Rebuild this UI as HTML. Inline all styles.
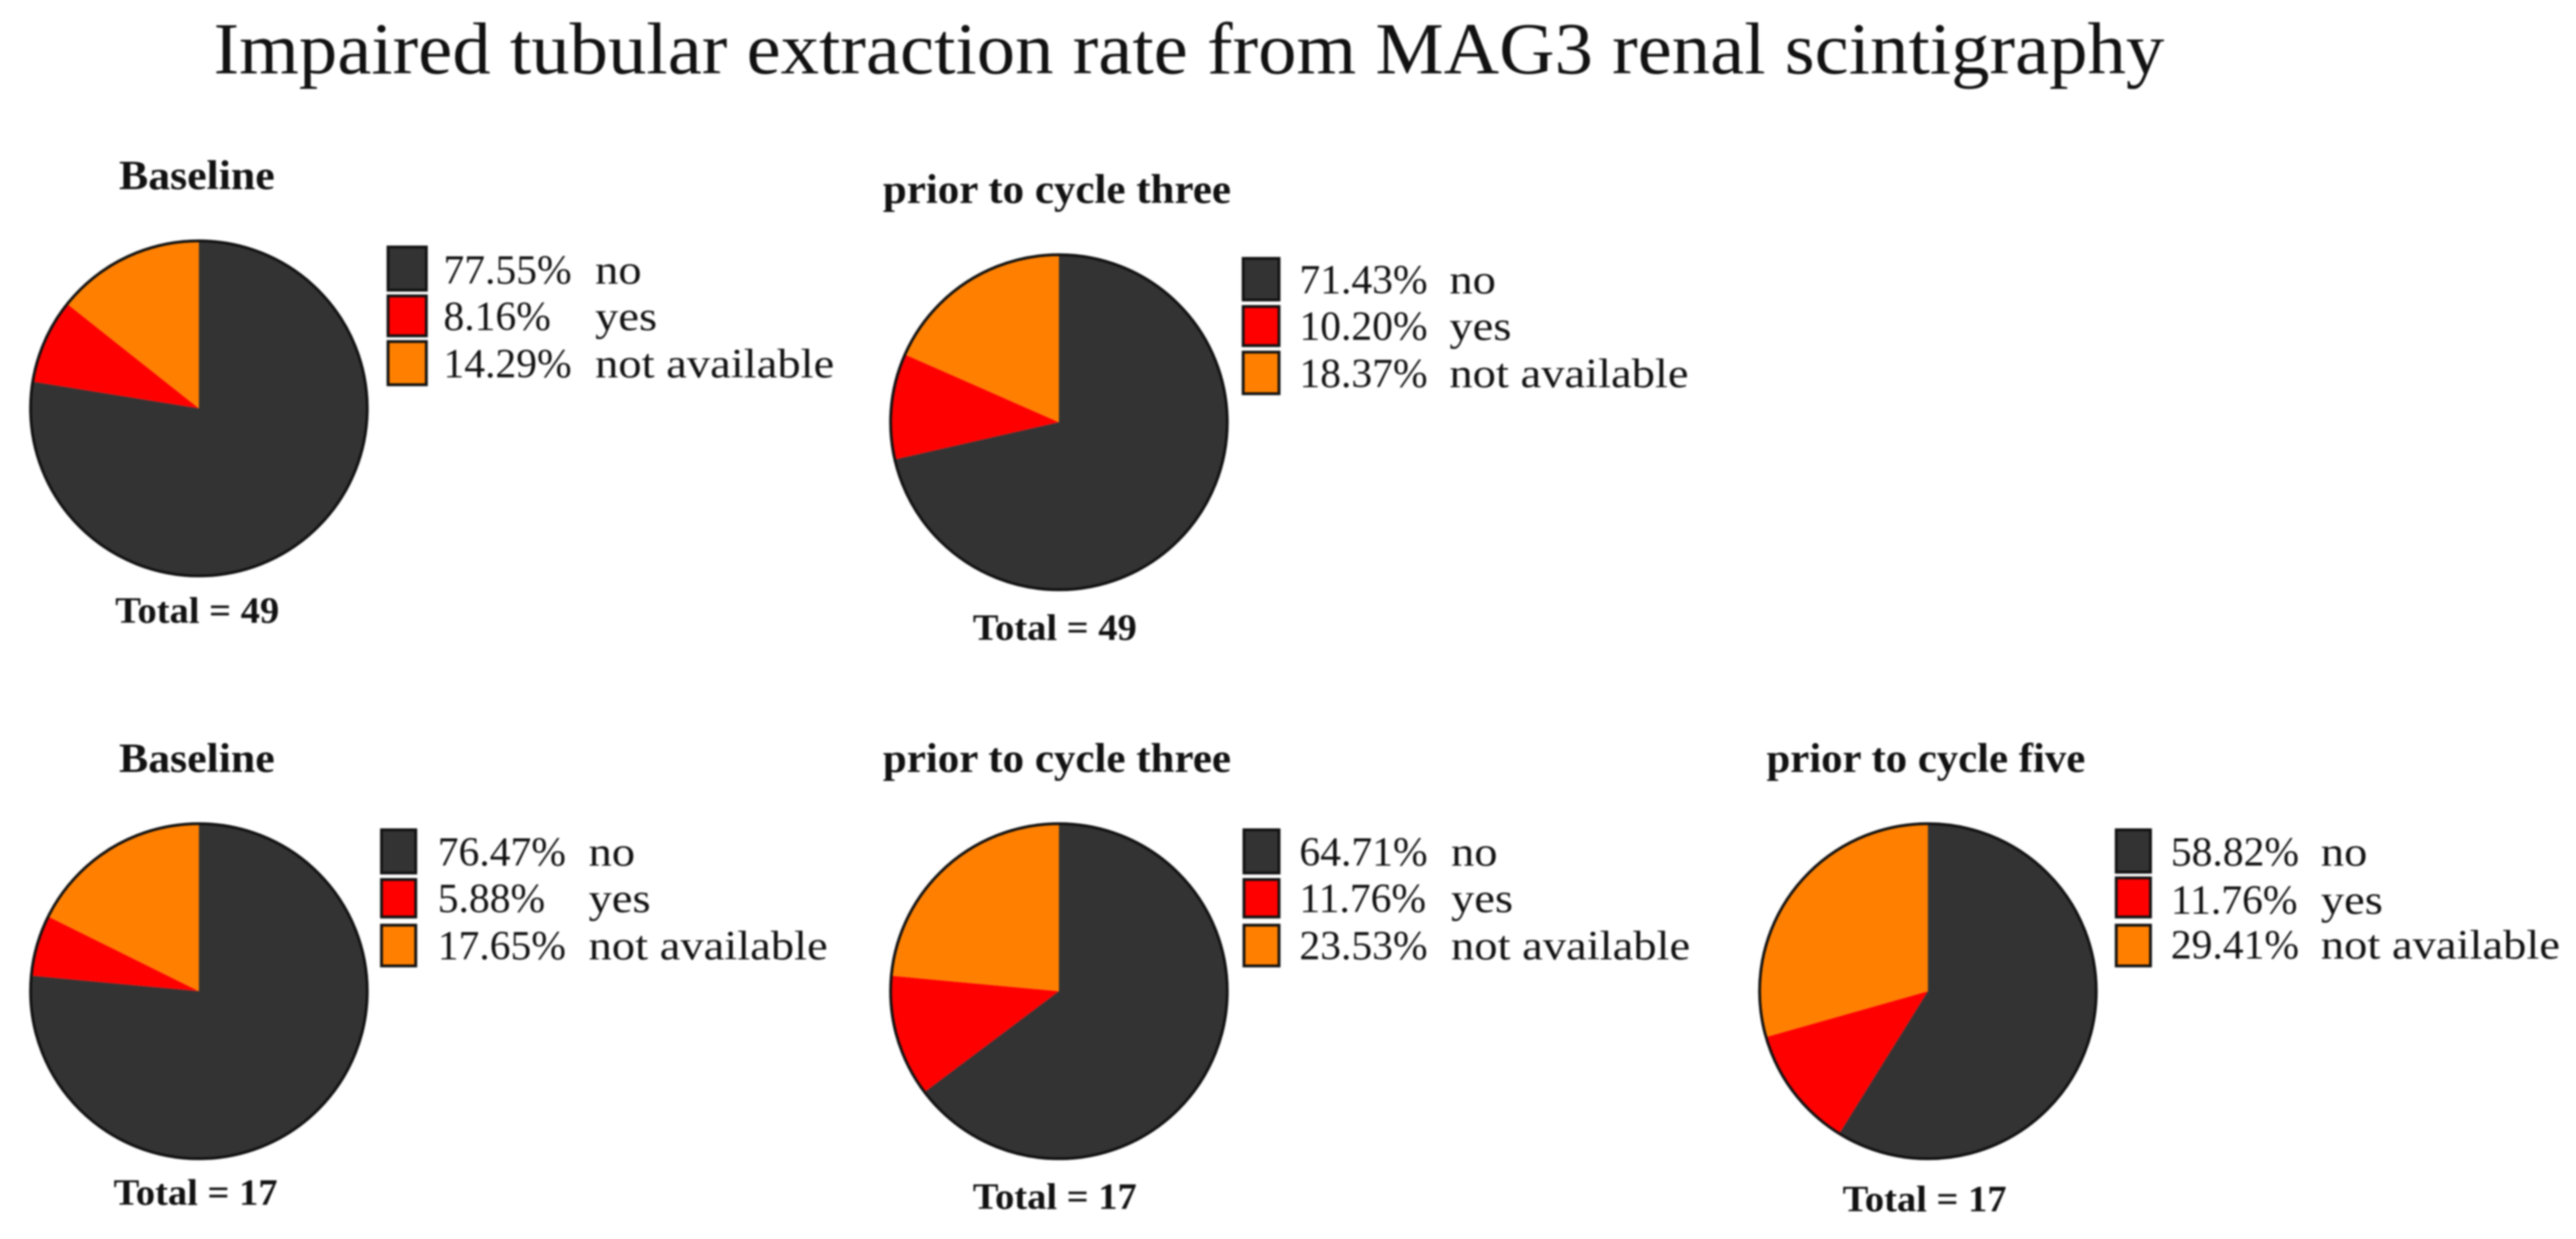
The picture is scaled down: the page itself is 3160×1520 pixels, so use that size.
<!DOCTYPE html>
<html>
<head>
<meta charset="utf-8">
<title>Impaired tubular extraction rate from MAG3 renal scintigraphy</title>
<style>
html,body{margin:0;padding:0;background:#fff;width:3160px;height:1520px;overflow:hidden}
svg{display:block;filter:blur(1px)}
text{font-family:"Liberation Serif",serif;fill:#111}
</style>
</head>
<body>
<svg id="chart" xmlns="http://www.w3.org/2000/svg" width="3160" height="1520" viewBox="0 0 3160 1520">
<rect width="3160" height="1520" fill="#ffffff"/>
<text id="fig-title" x="262" y="90" font-size="90" textLength="2393" lengthAdjust="spacingAndGlyphs">Impaired tubular extraction rate from MAG3 renal scintigraphy</text>
</svg>
<script>
// Chart data
const categories = ['no', 'yes', 'not available'];
const colors = ['#333333', '#ff0000', '#ff8000'];
const panelTitles = ['Baseline', 'prior to cycle three', 'Baseline', 'prior to cycle three', 'prior to cycle five'];
const totals = [49, 49, 17, 17, 17];
const valuesA = [77.55, 8.16, 14.29];
const valuesB = [71.43, 10.20, 18.37];
const valuesC = [76.47, 5.88, 17.65];
const valuesD = [64.71, 11.76, 23.53];
const valuesE = [58.82, 11.76, 29.41];
const panelValues = [valuesA, valuesB, valuesC, valuesD, valuesE];

// Layout (not data): one entry per panel
const layouts = [
  {cx:244,  cy:501,  tx:146,  ty:232, tw:191, lx:476,  lw:47, tex:544,  lab:730,  rows:[[303,356,348],[363,412,405],[419,472,463]], totalCx:242,  totalY:764},
  {cx:1299, cy:518,  tx:1083, ty:249, tw:427, lx:1525, lw:44, tex:1594, lab:1778, rows:[[317,368,360],[376,424,417],[432,483,475]], totalCx:1294, totalY:785},
  {cx:244,  cy:1216, tx:146,  ty:947, tw:191, lx:468,  lw:42, tex:537,  lab:722,  rows:[[1018,1071,1062],[1079,1125,1119],[1135,1185,1177]], totalCx:240, totalY:1478},
  {cx:1299, cy:1216, tx:1083, ty:947, tw:427, lx:1526, lw:43, tex:1594, lab:1780, rows:[[1018,1071,1062],[1079,1125,1119],[1135,1185,1177]], totalCx:1294, totalY:1483},
  {cx:2365, cy:1216, tx:2167, ty:947, tw:391, lx:2596, lw:42, tex:2663, lab:2847, rows:[[1018,1070,1062],[1077,1125,1121],[1135,1185,1176]], totalCx:2361, totalY:1486}
];
const RX = 206.5, RY = 205.5;
const SVGNS = 'http://www.w3.org/2000/svg';
const svg = document.getElementById('chart');

// Axis function: share (percent) -> clockwise angle from 12 o'clock
function angleOf(share, sum) { return share / sum * 2 * Math.PI; }
function pointAt(layout, a) {
  return [layout.cx + RX * Math.sin(a), layout.cy - RY * Math.cos(a)];
}
function mk(tag, attrs, parent) {
  const el = document.createElementNS(SVGNS, tag);
  for (const k in attrs) el.setAttribute(k, attrs[k]);
  (parent || svg).appendChild(el);
  return el;
}
function fitText(el, factor) {
  const w = el.getComputedTextLength();
  el.setAttribute('textLength', (w * factor).toFixed(1));
  el.setAttribute('lengthAdjust', 'spacingAndGlyphs');
}

panelValues.forEach(function (values, p) {
  const L = layouts[p];
  const g = mk('g', {});
  
  

  const title = mk('text', {x: L.tx, y: L.ty, 'font-size': 51, 'font-weight': 'bold', textLength: L.tw, lengthAdjust: 'spacingAndGlyphs'}, g);
  
  
  title.textContent = panelTitles[p];

  const sum = values.reduce(function (a, b) { return a + b; }, 0);
  let cum = 0;
  values.forEach(function (v, i) {
    const a0 = angleOf(cum, sum);
    cum += v;
    const a1 = angleOf(cum, sum);
    const s = pointAt(L, a0), e = pointAt(L, a1);
    const big = a1 - a0 > Math.PI ? 1 : 0;
    const d = 'M' + L.cx + ' ' + L.cy + 'L' + s[0].toFixed(2) + ' ' + s[1].toFixed(2) +
      'A' + RX + ' ' + RY + ' 0 ' + big + ' 1 ' + e[0].toFixed(2) + ' ' + e[1].toFixed(2) + 'Z';
    const slice = mk('path', {d: d, fill: colors[i]}, g);
    
    
  });
  const ring = mk('ellipse', {cx: L.cx, cy: L.cy, rx: RX, ry: RY, fill: 'none', stroke: '#111', 'stroke-width': 3.5}, g);
  
  

  categories.forEach(function (cat, i) {
    const r = L.rows[i];
    const sw = mk('rect', {x: L.lx, y: r[0], width: L.lw, height: r[1] - r[0], fill: colors[i], stroke: '#111', 'stroke-width': 3.5}, g);
    
    

    const pct = mk('text', {x: L.tex, y: r[2], 'font-size': 51, fill: '#222'}, g);
    
    
    pct.textContent = values[i].toFixed(2) + '%';

    const lab = mk('text', {x: L.lab, y: r[2], 'font-size': 51, fill: '#222'}, g);
    
    
    lab.textContent = cat;
    fitText(lab, 1.12);
  });

  const total = mk('text', {x: L.totalCx, y: L.totalY, 'font-size': 45, 'font-weight': 'bold', 'text-anchor': 'middle'}, g);
  
  
  total.textContent = 'Total = ' + totals[p];
  fitText(total, 1.05);
});
</script>
</body>
</html>
